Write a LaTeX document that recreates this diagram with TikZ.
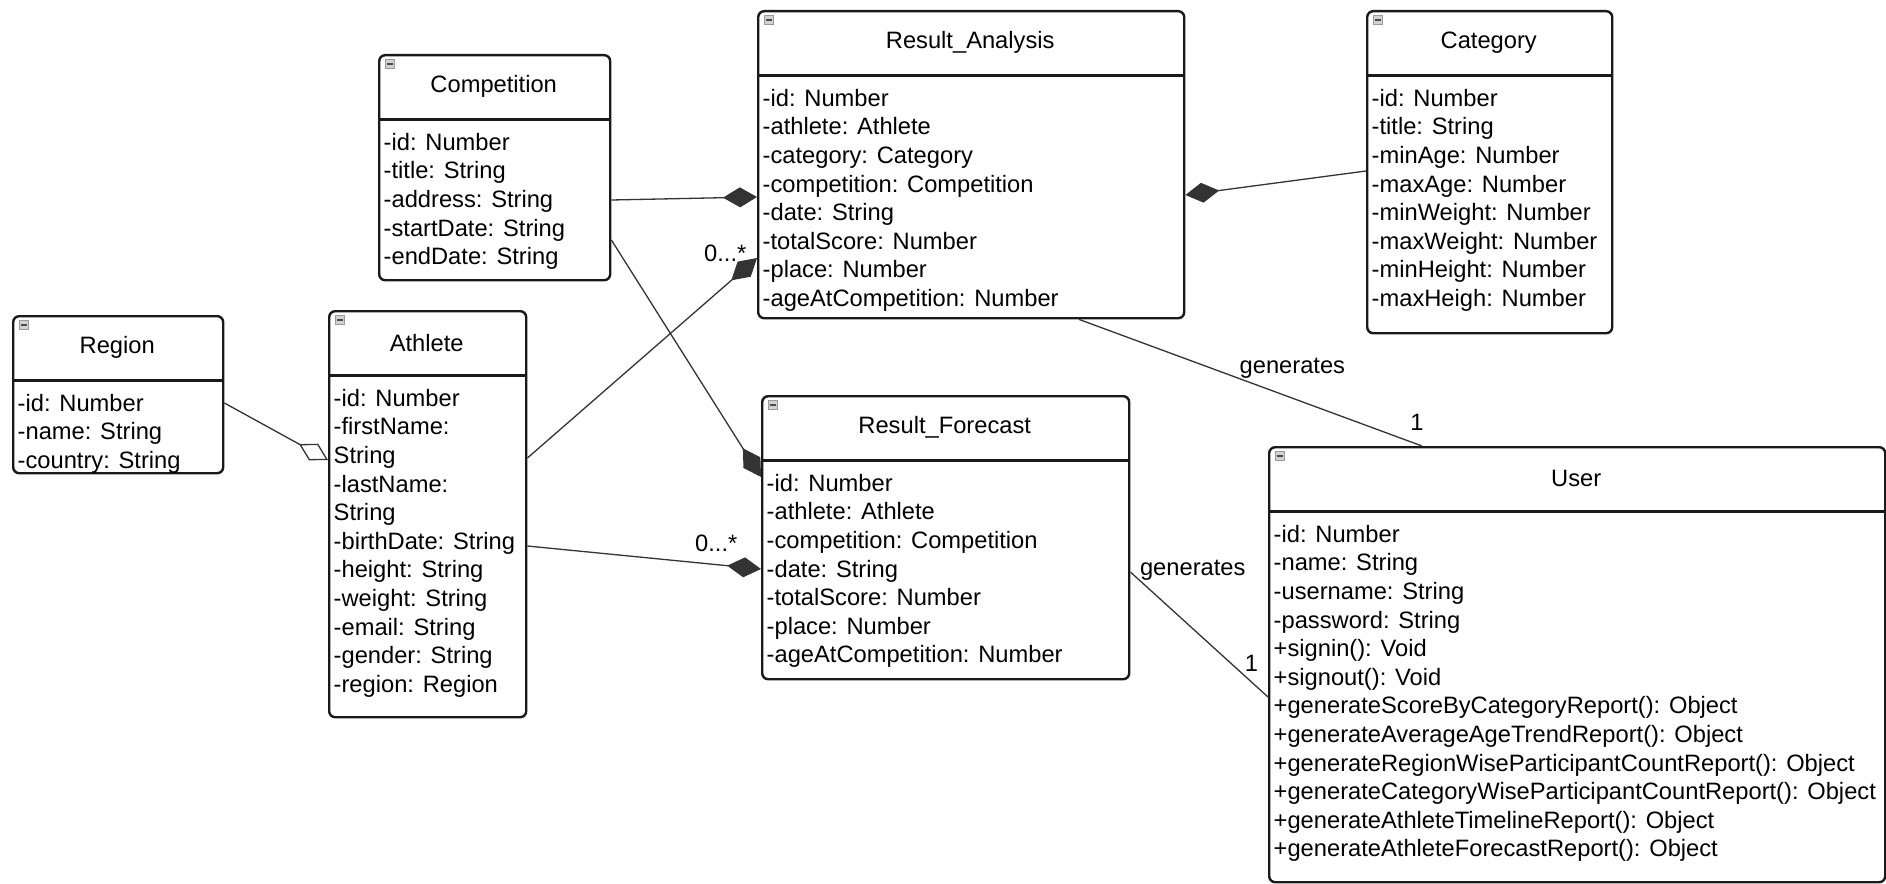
\documentclass[tikz,border=0pt]{standalone}
\usepackage{fontspec}
\setmainfont{Liberation Sans}
\usetikzlibrary{arrows.meta}

\tikzset{
    classbox/.style={draw=black!90, line width=2.4pt, rounded corners=6pt, anchor=north west, inner sep=0pt},
    classname/.style={anchor=north west, minimum height=65pt, inner sep=0pt},
    classattr/.style={anchor=north west, align=left, inner xsep=5.5pt, inner ysep=13.5pt},
    classline/.style={draw=black!90, line width=2.4pt},
    collapse/.style={draw=gray!80, fill=gray!35, minimum size=9pt, inner sep=0pt,
        path picture={\draw[black!70, line width=1.5pt] ([xshift=1.5pt]path picture bounding box.west) -- ([xshift=-1.5pt]path picture bounding box.east);}},
    link/.style={draw=black!80, line width=1.3pt},
    comp/.style={link, -{Diamond[length=34pt, width=20pt]}},
    aggr/.style={link, -{Diamond[length=33pt, width=19pt, fill=white]}},
    mult/.style={inner sep=0pt},
}

\begin{document}
\begin{tikzpicture}[x=1pt, y=-1pt, font=\fontsize{23.7pt}{28.6pt}\selectfont]
    \useasboundingbox (0,0) rectangle (1886,883);

    \node[classbox, minimum width=210, minimum height=157] (region) at (12,315) {};
    \node[classname, minimum width=210] (region-name) at (region.north west) {Region};
    \node[classattr] (region-attr) at (region-name.south west) {-id: Number\\-name: String\\-country: String};

    \node[classbox, minimum width=197, minimum height=406] (athlete) at (328,310) {};
    \node[classname, minimum width=197] (athlete-name) at (athlete.north west) {Athlete};
    \node[classattr] (athlete-attr) at (athlete-name.south west) {-id: Number\\-firstName:\\String\\-lastName:\\String\\-birthDate: String\\-height: String\\-weight: String\\-email: String\\-gender: String\\-region: Region};

    \node[classbox, minimum width=231, minimum height=225] (competition) at (378,54) {};
    \node[classname, minimum width=231] (competition-name) at (competition.north west) {Competition};
    \node[classattr] (competition-attr) at (competition-name.south west) {-id: Number\\-title: String\\-address: String\\-startDate: String\\-endDate: String};

    \node[classbox, minimum width=426, minimum height=307] (analysis) at (757,10) {};
    \node[classname, minimum width=426] (analysis-name) at (analysis.north west) {Result\_Analysis};
    \node[classattr] (analysis-attr) at (analysis-name.south west) {-id: Number\\-athlete: Athlete\\-category: Category\\-competition: Competition\\-date: String\\-totalScore: Number\\-place: Number\\-ageAtCompetition: Number};

    \node[classbox, minimum width=245, minimum height=322] (category) at (1366,10) {};
    \node[classname, minimum width=245] (category-name) at (category.north west) {Category};
    \node[classattr] (category-attr) at (category-name.south west) {-id: Number\\-title: String\\-minAge: Number\\-maxAge: Number\\-minWeight: Number\\-maxWeight: Number\\-minHeight: Number\\-maxHeigh: Number};

    \node[classbox, minimum width=367, minimum height=283] (forecast) at (761,395) {};
    \node[classname, minimum width=367] (forecast-name) at (forecast.north west) {Result\_Forecast};
    \node[classattr] (forecast-attr) at (forecast-name.south west) {-id: Number\\-athlete: Athlete\\-competition: Competition\\-date: String\\-totalScore: Number\\-place: Number\\-ageAtCompetition: Number};

    \node[classbox, minimum width=616, minimum height=435] (user) at (1268,446) {};
    \node[classname, minimum width=616] (user-name) at (user.north west) {User};
    \node[classattr] (user-attr) at (user-name.south west) {-id: Number\\-name: String\\-username: String\\-password: String\\+signin(): Void\\+signout(): Void\\+generateScoreByCategoryReport(): Object\\+generateAverageAgeTrendReport(): Object\\+generateRegionWiseParticipantCountReport(): Object\\+generateCategoryWiseParticipantCountReport(): Object\\+generateAthleteTimelineReport(): Object\\+generateAthleteForecastReport(): Object};

    \foreach \c in {region,athlete,competition,analysis,category,forecast,user}{
        \draw[classline] (\c-name.south west) -- (\c-name.south east);
        \node[collapse] at ([shift={(11.5,10)}]\c.north west) {};
    }

    \draw[aggr] ([shift={(0,88)}]region.north east) -- ([shift={(0,150)}]athlete.north west);
    \draw[comp] ([shift={(0,146)}]competition.north east) -- ([shift={(0,187)}]analysis.north west);
    \draw[comp] ([shift={(0,148)}]athlete.north east) -- ([shift={(0,248)}]analysis.north west)
        node[mult, pos=1, anchor=south east, xshift=-10pt, yshift=-4pt] {0...*};
    \draw[comp] ([shift={(0,186)}]competition.north east) -- ([shift={(0,82)}]forecast.north west);
    \draw[comp] ([shift={(0,236)}]athlete.north east) -- ([shift={(0,174)}]forecast.north west)
        node[mult, pos=1, anchor=south east, xshift=-23pt, yshift=17pt] {0...*};
    \draw[comp] ([shift={(0,161)}]category.north west) -- ([shift={(0,185)}]analysis.north east);
    \draw[link] ([shift={(322,0)}]analysis.south west) -- ([shift={(154,0)}]user.north west)
        node[mult, pos=0.622, above=19.5pt] {generates}
        node[mult, pos=0.985, above=13pt] {1};
    \draw[link] ([shift={(0,177)}]forecast.north east) -- ([shift={(0,251)}]user.north west)
        node[mult, pos=0, anchor=base west, xshift=9pt, yshift=-3pt] {generates}
        node[mult, pos=0.879, above=10pt] {1};
\end{tikzpicture}
\end{document}
